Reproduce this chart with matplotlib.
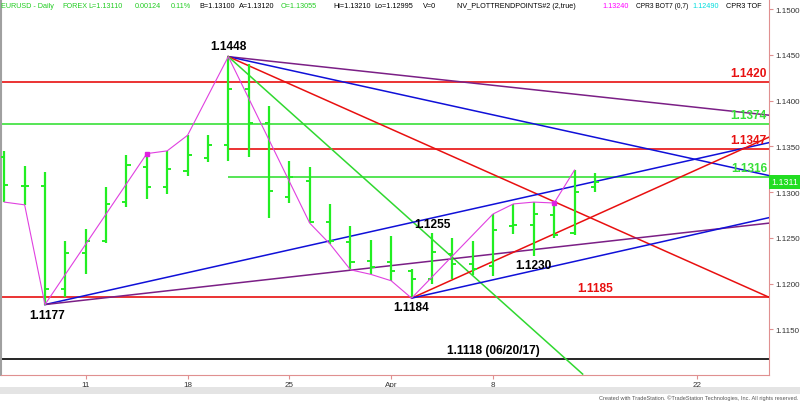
import matplotlib
matplotlib.use('Agg')
import matplotlib.pyplot as plt
from matplotlib.patches import Rectangle

plt.rcParams['font.family'] = ['Liberation Sans', 'DejaVu Sans']

# daily bars, Mar 5 .. Apr 15 2019 (trading days only)
opens = [1.1338, 1.1307, 1.1307, 1.1194, 1.1233, 1.1246, 1.1289, 1.1327, 1.1305, 1.1323,
         1.1337, 1.1351, 1.1413, 1.1376, 1.1295, 1.1312, 1.1267, 1.1245, 1.1225, 1.1223,
         1.1214, 1.1205, 1.1232, 1.1221, 1.1219, 1.1263, 1.1264, 1.1275, 1.1255, 1.13055]
highs = [1.1345, 1.1329, 1.1322, 1.1247, 1.1260, 1.1305, 1.1340, 1.1342, 1.1345, 1.1362,
         1.1362, 1.1448, 1.1440, 1.1394, 1.1334, 1.1327, 1.1287, 1.1263, 1.1248, 1.1252,
         1.1216, 1.1255, 1.1250, 1.1246, 1.1276, 1.1287, 1.1289, 1.1288, 1.1324, 1.13210]
lows = [1.1289, 1.1286, 1.1177, 1.1185, 1.1210, 1.1244, 1.1284, 1.1292, 1.1298, 1.1318,
        1.1333, 1.1334, 1.1338, 1.1272, 1.1288, 1.1266, 1.1243, 1.1215, 1.1210, 1.1203,
        1.1184, 1.1200, 1.1205, 1.1209, 1.1208, 1.1254, 1.1230, 1.1250, 1.1253, 1.12995]
closes = [1.1308, 1.1307, 1.1194, 1.1233, 1.1247, 1.1287, 1.1330, 1.1305, 1.1325, 1.1341,
          1.1351, 1.1413, 1.1376, 1.1301, 1.1316, 1.1267, 1.1246, 1.1224, 1.1218, 1.1214,
          1.1205, 1.1234, 1.1221, 1.1216, 1.1258, 1.1264, 1.1276, 1.1253, 1.1300, 1.13110]

# swing (zigzag) points
zz_idx = [0, 1, 2, 7, 8, 9, 11, 15, 16, 17, 18, 19, 20, 24, 25, 26, 27, 28]
zz_val = [1.1289, 1.1286, 1.1177, 1.1342, 1.1345, 1.1362, 1.1448, 1.1266, 1.1243, 1.1215,
          1.1210, 1.1203, 1.1184, 1.1276, 1.1287, 1.1289, 1.1288, 1.1324]
zz_dots = [7, 27]

XR = 37.55
# trend lines: (x0, y0, x1, y1, color)
trend_lines = [
    (11, 1.1448, XR, 1.1384, '#7b1f86'),
    (11, 1.1448, XR, 1.1318, '#1010d8'),
    (11, 1.1448, XR, 1.1185, '#e81010'),
    (11, 1.1448, 28.4, 1.1101, '#30d830'),
    (2, 1.1177, XR, 1.1354, '#1010d8'),
    (2, 1.1177, XR, 1.1266, '#7b1f86'),
    (20, 1.1184, XR, 1.1360, '#e81010'),
    (20, 1.1184, XR, 1.1272, '#1010d8'),
]

# horizontal levels: (price, start, color)
levels = [
    (1.1420, -1, '#e81010'),
    (1.1374, -1, '#38e038'),
    (1.1347, 11, '#e81010'),
    (1.1316, 11, '#38e038'),
    (1.1185, -1, '#e81010'),
    (1.1118, -1, '#000000'),
]

xtick_pos = [4, 9, 14, 19, 24, 34]
xtick_lab = ['11', '18', '25', 'Apr', '8', '22']
yticks = [1.1150, 1.1200, 1.1250, 1.1300, 1.1350, 1.1400, 1.1450, 1.1500]

fig = plt.figure(figsize=(8, 4.02), dpi=100)
ax = fig.add_axes([0.0015, 26 / 402, 769 / 800 - 0.0015, 376 / 402])
ax.set_xlim(-0.15, XR)
ax.set_ylim(1.1100, 1.1511)

for p, x0, c in levels:
    ax.hlines(p, x0, XR, color=c, lw=1.2, zorder=2)

for x0, y0, x1, y1, c in trend_lines:
    ax.plot([x0, x1], [y0, y1], color=c, lw=1.1, zorder=3)

bar_c = '#22ee22'
n = len(opens)
for i in range(n):
    ax.vlines(i, lows[i], highs[i], color=bar_c, lw=1.6, zorder=4)
    ax.hlines(opens[i], i - 0.2, i, color=bar_c, lw=1.4, zorder=4)
    ax.hlines(closes[i], i, i + 0.2, color=bar_c, lw=1.4, zorder=4)

ax.plot(zz_idx, zz_val, color='#e040e0', lw=0.8, zorder=5)
ax.plot(zz_dots, [zz_val[zz_idx.index(d)] for d in zz_dots], 's', color='#e020e0',
        ms=2.5, zorder=6)

bold = dict(fontsize=8.6, fontweight='bold')
ax.text(11, 1.14535, '1.1448', ha='center', va='bottom', color='black', **bold)
ax.text(2.1, 1.11725, '1.1177', ha='center', va='top', color='black', **bold)
ax.text(20, 1.11805, '1.1184', ha='center', va='top', color='black', **bold)
ax.text(21, 1.1258, '1.1255', ha='center', va='bottom', color='black', **bold)
ax.text(26, 1.12265, '1.1230', ha='center', va='top', color='black', **bold)
ax.text(29.0, 1.1188, '1.1185', ha='center', va='bottom', color='#e81010', **bold)
ax.text(24.0, 1.1121, '1.1118 (06/20/17)', ha='center', va='bottom', color='black', **bold)
ax.text(XR - 0.1, 1.1424, '1.1420', ha='right', va='bottom', color='#e81010', **bold)
ax.text(XR - 0.1, 1.13775, '1.1374', ha='right', va='bottom', color='#38e038', **bold)
ax.text(XR - 0.1, 1.13505, '1.1347', ha='right', va='bottom', color='#e81010', **bold)
ax.text(XR - 0.1, 1.1320, '1.1316', ha='right', va='bottom', color='#38e038', **bold)

# axes styling
ax.spines['top'].set_visible(False)
ax.spines['left'].set_color('#a0a0a0')
ax.spines['left'].set_linewidth(1.5)
ax.spines['right'].set_color('#e09090')
ax.spines['bottom'].set_color('#e09090')
ax.yaxis.tick_right()
ax.set_yticks(yticks)
ax.set_yticklabels(['%.4f' % v for v in yticks])
ax.set_xticks(xtick_pos)
ax.set_xticklabels(xtick_lab)
ax.tick_params(axis='both', colors='#e09090', labelcolor='#333333', labelsize=5.8,
               length=3, width=0.8, pad=1.5)

# last price box
ax.annotate('1.1311', xy=(1.0, closes[-1]), xycoords=('axes fraction', 'data'),
            xytext=(1.5, 0), textcoords='offset points', ha='left', va='center',
            fontsize=6.4, color='white', annotation_clip=False,
            bbox=dict(boxstyle='square,pad=0.25', fc='#22dd22', ec='none'))

# header line: (text, x px, colour, size)
hdr = [
    ('EURUSD - Daily', 1, '#22cc22', 5.2), ('FOREX', 62, '#22cc22', 5.2),
    ('L=1.13110', 88.5, '#22cc22', 5.2), ('0.00124', 135, '#22cc22', 5.2),
    ('0.11%', 171, '#22cc22', 5.2), ('B=1.13100', 199.3, 'black', 5.2),
    ('A=1.13120', 238.7, 'black', 5.2), ('O=1.13055', 281, '#22cc22', 5.2),
    ('Hi=1.13210', 333.3, 'black', 5.2), ('Lo=1.12995', 374.3, 'black', 5.2),
    ('V=0', 422.7, 'black', 5.2), ('NV_PLOTTRENDPOINTS#2 (2,true)', 456.7, 'black', 5.2),
    ('1.13240', 602.7, '#ff00ff', 5.2), ('CPR3 BOT7 (0,7)', 636, 'black', 4.8),
    ('1.12490', 692, '#00dddd', 5.2), ('CPR3 TOF', 726, 'black', 5.2),
]
for t, x, c, fs in hdr:
    fig.text(x / 800, 1 - 6 / 402, t, color=c, fontsize=fs, ha='left', va='center')

# scrollbar strip and footer
fig.patches.append(Rectangle((0, 7 / 402), 1, 7 / 402, transform=fig.transFigure,
                             fc='#e4e4e4', ec='none'))
fig.text(0.998, 0.002, 'Created with TradeStation. \u00a9TradeStation Technologies, Inc. All rights reserved.',
         fontsize=4.1, color='#555555', ha='right', va='bottom')

fig.savefig('out.png', dpi=100)
